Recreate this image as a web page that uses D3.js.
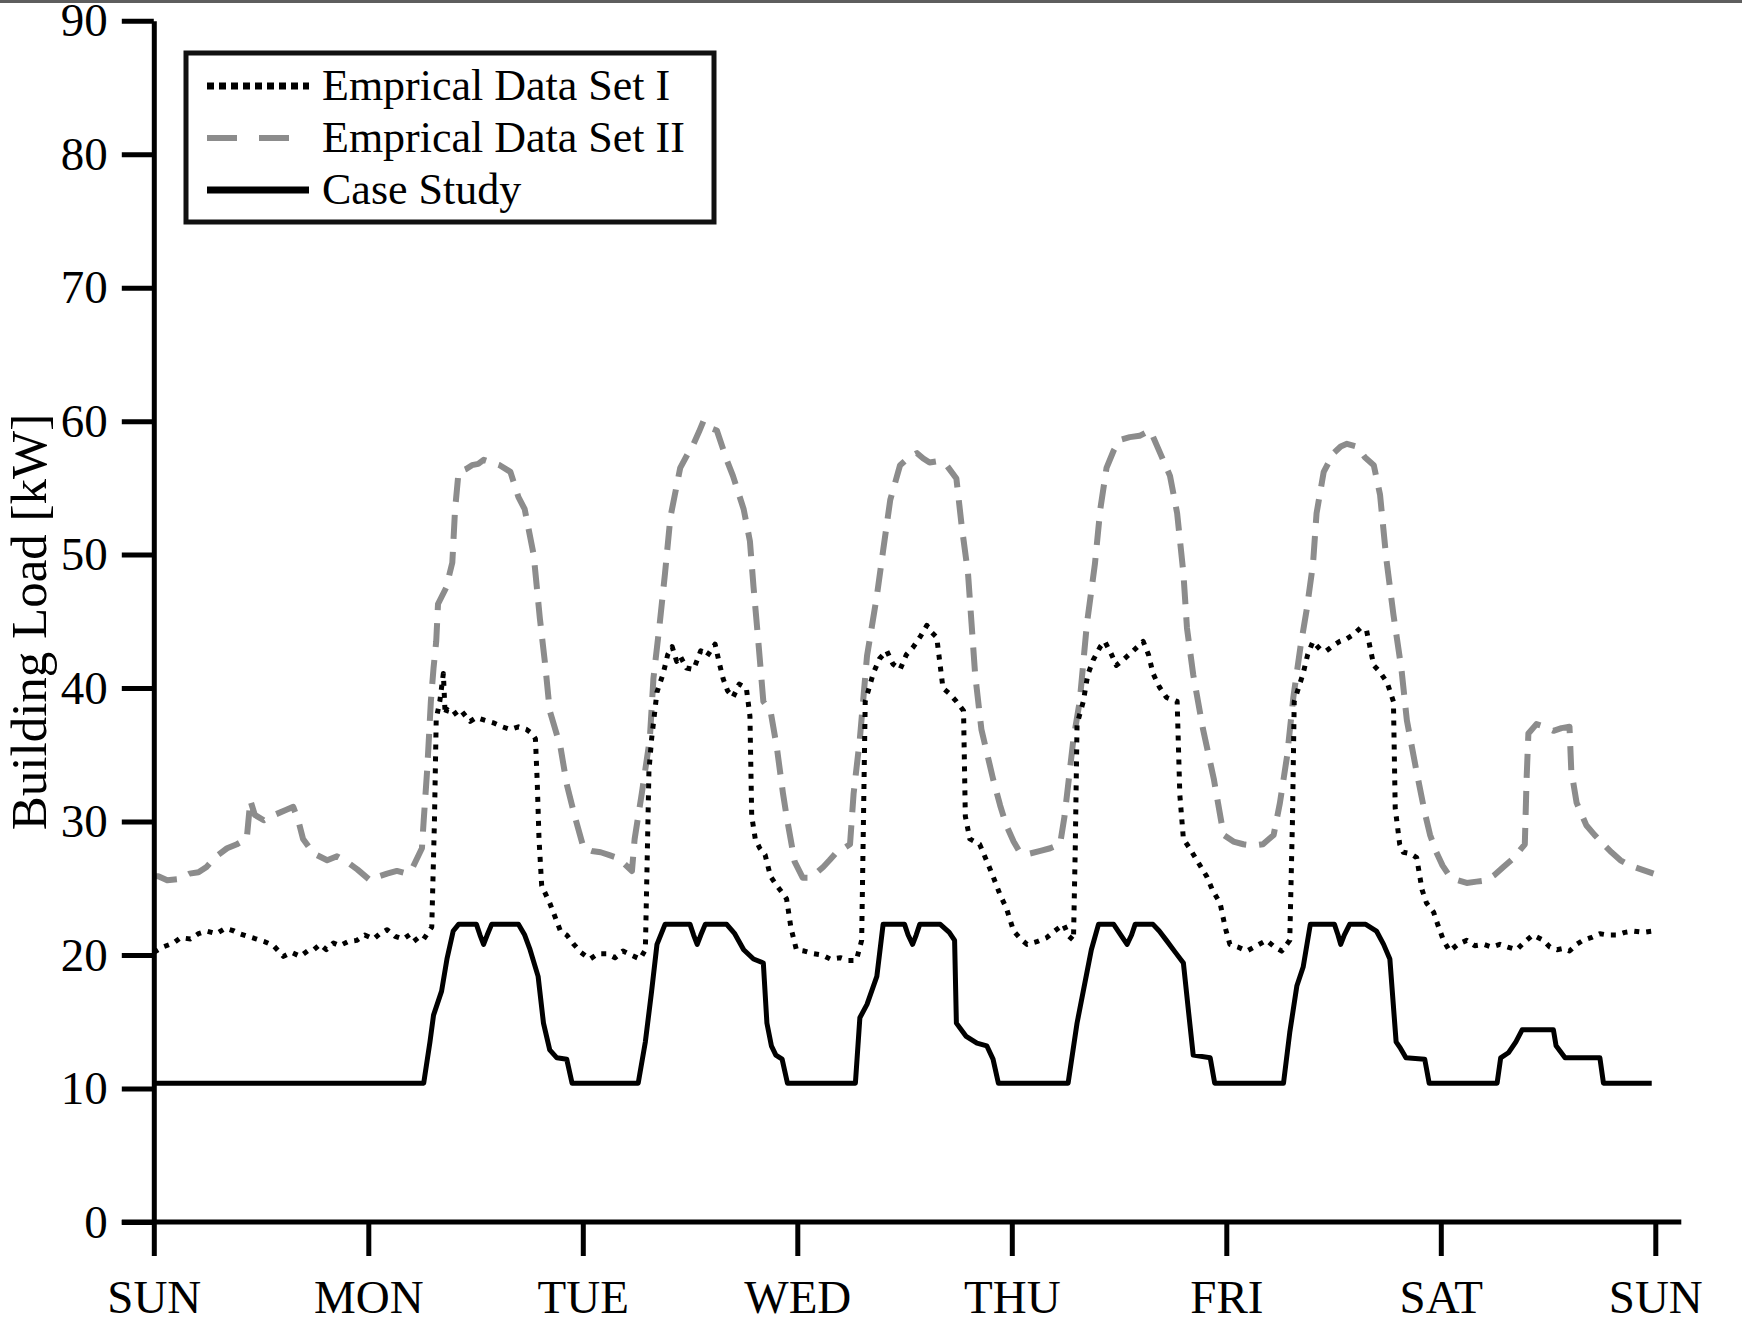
<!DOCTYPE html>
<html><head><meta charset="utf-8">
<script src="https://cdn.jsdelivr.net/npm/d3@7"></script>
<style>
body{margin:0;background:#fff}
svg{display:block}
text{font-family:"Liberation Serif","Times New Roman",serif;fill:#000}
</style></head>
<body><svg id="chart" width="1742" height="1332"></svg>
<script>
// ---- data (hour of week, kW) ----
const dayLabels = ["SUN","MON","TUE","WED","THU","FRI","SAT","SUN"];
const dayTicks = [0,24,48,72,96,120,144,168];
const loadTicks = [0,10,20,30,40,50,60,70,80,90];
const seriesNames = ["Emprical Data Set I","Emprical Data Set II","Case Study"];

const caseStudy = [[0,10.4],[30.2,10.4],[30.9,13.5],[31.3,15.5],[32.2,17.3],[32.8,19.7],[33.5,21.8],[34.1,22.3],[36.1,22.3],[36.5,21.5],[36.9,20.8],[37.3,21.5],[37.8,22.3],[40.8,22.3],[41.5,21.5],[42.1,20.4],[43.0,18.4],[43.6,14.9],[44.3,12.9],[45.1,12.3],[46.2,12.2],[46.8,10.4],[54.2,10.4],[55.0,13.5],[55.7,17.3],[56.3,20.8],[57.2,22.3],[60,22.3],[60.4,21.5],[60.8,20.8],[61.2,21.5],[61.7,22.3],[64.1,22.3],[65,21.6],[66,20.4],[67.1,19.7],[68.2,19.4],[68.6,14.9],[69.1,13.2],[69.6,12.5],[70.3,12.2],[70.9,10.4],[78.5,10.4],[79,15.3],[79.8,16.3],[80.9,18.4],[81.6,22.3],[84,22.3],[84.4,21.5],[84.9,20.8],[85.3,21.5],[85.7,22.3],[88,22.3],[89,21.7],[89.6,21.1],[89.8,14.9],[90.9,13.9],[92.1,13.4],[93.2,13.2],[93.9,12.2],[94.5,10.4],[102.3,10.4],[103.3,14.9],[104,17.3],[104.9,20.4],[105.7,22.3],[107.4,22.3],[108.2,21.5],[108.9,20.8],[109.4,21.5],[109.8,22.3],[111.8,22.3],[112.5,21.8],[113.3,21.1],[114.3,20.2],[115.2,19.4],[115.8,15.6],[116.3,12.5],[118.2,12.3],[118.7,10.4],[126.4,10.4],[127.1,14.2],[127.9,17.7],[128.6,19.1],[129.4,22.3],[132.1,22.3],[132.5,21.5],[132.8,20.8],[133.2,21.5],[133.8,22.3],[135.6,22.3],[136.8,21.8],[137.6,20.8],[138.3,19.7],[139,13.5],[139.5,13.0],[140.1,12.3],[142.2,12.2],[142.7,10.4],[150.3,10.4],[150.7,12.3],[151.6,12.7],[152.4,13.5],[153.1,14.4],[156.6,14.4],[156.9,13.2],[157.9,12.3],[161.8,12.3],[162.2,10.4],[167.6,10.4]];

const dataSetI = [[0,20.2],[1,20.6],[2.2,20.9],[3,21.3],[4.1,21.2],[5,21.6],[5.9,21.8],[7,21.6],[8,22.0],[9,21.8],[9.6,21.6],[10.5,21.4],[11.5,21.2],[12.4,21.0],[13.4,20.7],[14.5,19.9],[15.4,20.2],[16.4,19.9],[17.2,20.3],[17.9,20.4],[18.6,20.8],[19.3,20.4],[20.1,20.9],[20.8,20.7],[21.7,21.0],[22.7,21.1],[23.6,21.5],[24.6,21.2],[25.3,21.6],[26.1,21.9],[27,21.4],[27.9,21.2],[28.8,21.6],[29.5,21.0],[30.2,21.2],[31.1,22.1],[31.4,30],[31.6,37.7],[32,39],[32.4,41.1],[32.6,38],[32.8,38.4],[33.5,38.0],[34.3,38.4],[35,37.8],[35.4,37.5],[36.1,37.8],[37,37.6],[38,37.4],[39,37.1],[39.9,36.9],[40.8,37.1],[41.7,36.9],[42.3,36.6],[42.7,36.2],[42.9,33],[43.1,28.7],[43.4,25.2],[44.3,23.9],[45.5,21.8],[46.2,21.5],[47,20.8],[47.8,20.2],[48.8,19.7],[49.7,20.1],[50.7,20.1],[51.6,19.8],[52.5,20.3],[53.4,20.0],[54.4,19.7],[55,20.4],[55.2,27],[55.4,33.8],[55.7,36.2],[56.3,39.7],[57,41.1],[57.5,42.5],[58,43.1],[58.5,42],[58.9,42.4],[59.6,41.5],[60.4,41.4],[61.2,42.8],[61.9,42.4],[62.8,43.3],[63.3,41.8],[63.7,40.7],[64.2,39.8],[64.8,39.3],[65.5,40.3],[66.3,40],[66.7,37.9],[66.9,30.4],[67.3,28.7],[67.8,28],[68.4,27.5],[69,25.9],[69.7,25.2],[70.4,24.6],[70.8,24.2],[71.3,22],[71.9,20.4],[72.8,20.3],[73.8,20.1],[74.8,20.0],[75.7,19.7],[76.8,19.8],[77.7,19.6],[78.6,19.6],[79.2,21.1],[79.4,30],[79.6,39],[80.5,41.1],[81.2,42.2],[82,42.8],[82.7,41.8],[83.5,41.4],[84.2,42.5],[85,43.1],[85.8,43.9],[86.5,44.7],[87,44.2],[87.6,43.8],[88.3,40],[89,39.6],[89.8,39],[90.6,38.3],[90.8,30.4],[91.3,28.7],[92.4,28.3],[93.1,27.2],[93.9,25.9],[94.7,24.5],[95.4,23.5],[96.2,21.8],[97,21.2],[97.7,20.8],[98.8,21.0],[99.9,21.3],[100.8,21.8],[101.8,22.3],[102.4,21.4],[102.9,21.1],[103.1,28],[103.3,37.3],[104,39],[104.5,41],[105.1,42.1],[105.9,43.1],[106.4,43.5],[107.1,42.6],[107.7,41.7],[108.6,42.2],[109.6,42.8],[110.7,43.5],[111.3,42.5],[111.8,41.1],[112.5,40.1],[113.3,39.3],[114.5,39],[114.8,32],[115.2,28.7],[115.9,28],[116.8,27],[117.8,25.9],[118.5,24.8],[119.3,23.9],[119.9,22],[120.4,20.8],[121.3,20.6],[122.3,20.3],[123.4,20.7],[124.5,21.1],[125.4,20.6],[126.2,20.3],[127.1,21.1],[127.4,30],[127.6,39],[128.6,41.1],[129.1,42.5],[129.7,43.5],[130.5,42.9],[131.2,42.8],[132,43.2],[132.7,43.5],[133.5,43.7],[134.2,44],[135,44.5],[135.7,44.3],[136.5,41.7],[137.2,41.2],[138,40.4],[138.7,39],[138.9,31],[139.4,28.3],[139.8,27.7],[140.6,27.6],[141.3,27.3],[141.9,24.9],[142.4,23.9],[143.2,23.2],[143.7,22.2],[144.3,21.1],[145,20.3],[145.9,20.8],[146.9,21.1],[147.8,20.7],[148.8,20.8],[149.7,20.6],[150.6,20.8],[151.5,20.6],[152.5,20.4],[153.4,21.0],[154.3,21.5],[155.5,21.1],[156.2,20.6],[157,20.4],[157.7,20.5],[158.4,20.3],[159.2,20.8],[159.9,21.1],[160.8,21.3],[161.8,21.6],[162.7,21.5],[163.7,21.5],[164.6,21.7],[165.5,21.8],[166.7,21.7],[167.8,21.8]];

const dataSetII = [[0,25.9],[0.5,25.9],[1.5,25.6],[2.9,25.7],[4,26.1],[5,26.2],[5.9,26.6],[7,27.4],[8.2,28],[9.3,28.3],[10.4,28.7],[10.8,31.6],[11.3,30.5],[12.3,30.1],[13.5,30.5],[14.9,30.9],[15.6,31.1],[16.2,30],[16.7,28.7],[17.9,27.6],[19.4,27.1],[20.5,27.4],[21.6,27],[22.8,26.4],[24.2,25.6],[25.2,25.9],[26.1,26.1],[27.2,26.3],[28.3,26.1],[29,26.6],[30,28],[30.2,30.1],[30.6,34],[31,39],[31.3,41.5],[31.6,43.5],[31.8,46.3],[32.7,47.5],[33.4,49.4],[33.7,53.3],[34.1,56.2],[34.9,56.4],[35.6,56.7],[36.3,56.8],[36.9,57.1],[37.8,56.9],[38.7,56.7],[39.9,56.2],[40.8,54.3],[41.5,53.4],[42.5,50],[43.2,45.2],[43.8,41.7],[44.3,38.3],[45.5,35.6],[46.2,32.8],[47.1,30.4],[48.1,28],[49,27.8],[50,27.7],[50.9,27.5],[51.8,27.3],[52.7,26.8],[53.5,26.3],[53.8,28.7],[54.6,32.1],[55.5,36.2],[55.9,40.7],[56.6,44.8],[57.2,48.6],[57.8,52.8],[58.9,56.5],[59.7,57.5],[60.4,58.3],[61.0,59.2],[61.5,60],[62.2,59.5],[63,59.3],[64.1,57.1],[64.8,55.9],[66,53.4],[66.7,51],[67.1,47.6],[67.6,43.8],[68.2,39],[69,38.3],[69.7,35.6],[70.4,32.1],[70.8,30.4],[71.7,27],[72.6,25.8],[73.4,25.8],[74.2,26.2],[74.9,26.6],[75.6,27.1],[76.4,27.7],[77.2,28],[77.9,28.3],[78.3,32.1],[79,36.2],[79.8,42.4],[80.9,46.9],[81.6,50.3],[82.4,54.1],[83.5,56.7],[84.5,57.3],[85.4,57.6],[86.1,57.2],[86.8,56.9],[87.7,57],[88.7,56.7],[89.8,55.7],[90.4,52.1],[91.1,48.6],[91.5,44.8],[91.9,41],[92.6,36.9],[93.9,33.2],[94.7,31.2],[95.4,29.7],[96.2,28.5],[96.9,27.7],[98,27.6],[99.2,27.8],[100.3,28],[101.4,28.3],[101.9,30.4],[102.9,36.2],[103.6,39],[104.4,44.8],[105.3,49.3],[105.9,53.4],[106.6,56.5],[107.4,57.8],[108.1,58.6],[109.2,58.8],[110.3,58.9],[111.5,59.3],[112.6,57.6],[113.7,55.9],[114.5,53.1],[115.2,48.6],[115.6,44.5],[116.3,41],[117.4,36.9],[118.6,33.2],[119.7,29],[120.8,28.5],[121.9,28.3],[123,28.2],[124.1,28.3],[125.3,29],[126,31.4],[126.8,34.9],[127.5,39.3],[128.3,43.1],[129,45.9],[129.7,49.3],[130.1,53.1],[130.9,56.2],[132,57.6],[132.8,58.1],[133.5,58.3],[134.6,58.1],[135.5,57.3],[136.5,56.7],[137.2,54.5],[137.9,49.7],[138.7,45.5],[139.6,41.4],[140.2,37.6],[141.3,33.7],[142.2,30.7],[142.8,29],[143.5,27.7],[144.2,26.7],[145,25.9],[145.9,25.6],[146.9,25.4],[148,25.5],[149.1,25.6],[150,26],[151,26.6],[152.2,27.3],[153.4,28.3],[153.6,33.2],[153.8,36.6],[154.7,37.3],[155.6,37.1],[156.6,36.8],[157.5,37],[158.4,37.1],[158.6,33.8],[159.2,31.4],[160.3,29.7],[161.2,29],[162.2,28.3],[163.1,27.7],[164.1,27.1],[165.2,26.7],[166.5,26.4],[167.8,26.1]];

// ---- drawing ----
const svg = d3.select("#chart");
const W = 1742, H = 1332;
svg.append("rect").attr("width",W).attr("height",H).attr("fill","#fff");
svg.append("rect").attr("x",0).attr("y",0).attr("width",W).attr("height",3).attr("fill","#5e5e5e");

const x = d3.scaleLinear().domain([0,168]).range([153.8,1655.3]);
const y = d3.scaleLinear().domain([0,90]).range([1222,20.7]);

const line = d3.line().x(d=>x(d[0])).y(d=>y(d[1]));

const styles = [
  {data:dataSetII, stroke:"#8c8c8c", width:6, dash:"24,13"},
  {data:dataSetI, stroke:"#000", width:5, dash:"5,7"},
  {data:caseStudy, stroke:"#000", width:5, dash:null}
];
styles.forEach(s=>{
  svg.append("path").datum(s.data).attr("d",line)
    .attr("fill","none").attr("stroke",s.stroke).attr("stroke-width",s.width)
    .attr("stroke-dasharray",s.dash).attr("stroke-linejoin","round");
});

// y axis
const gy = svg.append("g").attr("transform",`translate(${x(0)},0)`)
  .call(d3.axisLeft(y).tickValues(loadTicks).tickSize(32).tickSizeOuter(0).tickPadding(14));
gy.selectAll("path,line").attr("stroke","#000").attr("stroke-width",5);
gy.selectAll("text").attr("font-size",47).attr("font-family","Liberation Serif").attr("fill","#000");

// x axis
const gx = svg.append("g").attr("transform",`translate(0,${y(0)})`)
  .call(d3.axisBottom(x).tickValues(dayTicks).tickFormat((d,i)=>dayLabels[i]).tickSize(34).tickSizeOuter(0));
gx.select(".domain").remove();
gx.append("line").attr("x1",x(0)-32).attr("x2",x.range()[1]+26).attr("y1",0).attr("y2",0)
  .attr("stroke","#000").attr("stroke-width",5);
gx.selectAll(".tick line").attr("stroke","#000").attr("stroke-width",5);
gx.selectAll("text").attr("font-size",47).attr("font-family","Liberation Serif").attr("fill","#000")
  .attr("dy",null).attr("y",91);

// y label
svg.append("text").attr("transform","translate(46,622) rotate(-90)")
  .attr("text-anchor","middle").attr("font-size",51).text("Building Load [kW]");

// legend
const lg = svg.append("g");
lg.append("rect").attr("x",186).attr("y",53).attr("width",528).attr("height",169)
  .attr("fill","#fff").attr("stroke","#111").attr("stroke-width",5);
const legStyles = [
  {stroke:"#000", width:7, dash:"7,5"},
  {stroke:"#8c8c8c", width:6, dash:"30,22"},
  {stroke:"#000", width:7, dash:null}
];
seriesNames.forEach((n,i)=>{
  const cy = 86 + i*52;
  lg.append("line").attr("x1",207).attr("x2",309).attr("y1",cy).attr("y2",cy)
    .attr("stroke",legStyles[i].stroke).attr("stroke-width",legStyles[i].width)
    .attr("stroke-dasharray",legStyles[i].dash);
  lg.append("text").attr("x",322).attr("y",cy+14).attr("font-size",44).text(n);
});
</script>
</body></html>
